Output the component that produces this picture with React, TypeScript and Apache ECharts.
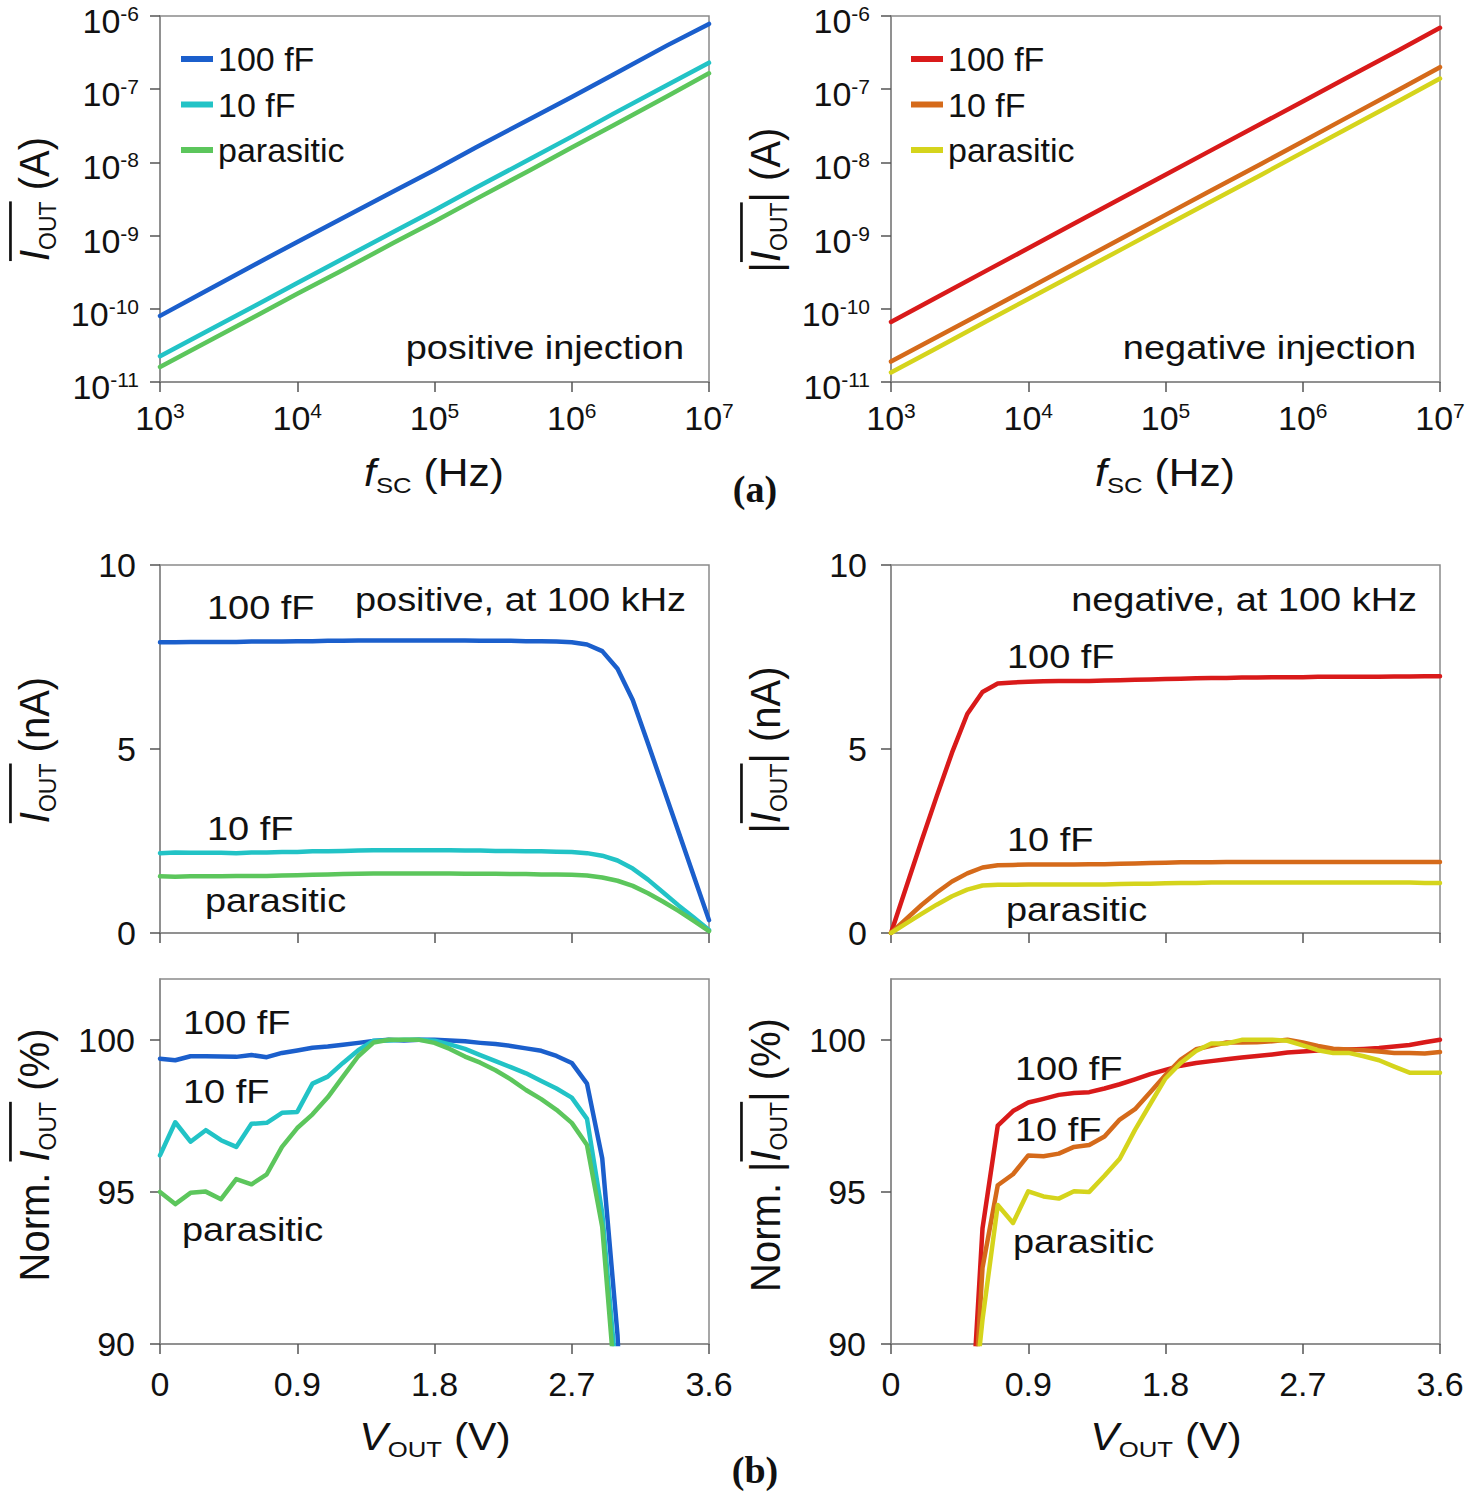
import React, { useEffect, useRef } from 'react';
import * as echarts from 'echarts';

const FONT = "'Liberation Sans', Arial, Helvetica, sans-serif";
const SERIF = "'Liberation Serif', 'Times New Roman', serif";
const INK = '#111111';
const FRAME = '#8a8a8a';
const TICK = '#555555';

const BLUE = '#1b5fcc';
const CYAN = '#22c3c6';
const GREEN = '#5cc65c';
const RED = '#d91a1a';
const ORANGE = '#d56a1a';
const YELLOW = '#d5d41c';

// ---------- (a) frequency sweep ----------
const FREQ = [1e3, 2e3, 5e3, 1e4, 2e4, 5e4, 1e5, 2e5, 5e5, 1e6, 2e6, 5e6, 1e7];
const POS_100 = [8.0e-11, 1.62e-10, 4.1e-10, 8.2e-10, 1.62e-9, 4.0e-9, 7.9e-9, 1.6e-8, 3.95e-8, 7.8e-8, 1.58e-7, 4.0e-7, 7.8e-7];
const POS_10 = [2.25e-11, 4.5e-11, 1.12e-10, 2.25e-10, 4.5e-10, 1.12e-9, 2.22e-9, 4.5e-9, 1.12e-8, 2.25e-8, 4.6e-8, 1.15e-7, 2.3e-7];
const POS_PAR = [1.6e-11, 3.2e-11, 8.0e-11, 1.6e-10, 3.15e-10, 7.9e-10, 1.56e-9, 3.15e-9, 7.9e-9, 1.6e-8, 3.2e-8, 8.1e-8, 1.65e-7];
const NEG_100 = [6.6e-11, 1.33e-10, 3.35e-10, 6.7e-10, 1.35e-9, 3.4e-9, 6.8e-9, 1.36e-8, 3.4e-8, 6.8e-8, 1.37e-7, 3.4e-7, 6.9e-7];
const NEG_10 = [1.9e-11, 3.8e-11, 9.5e-11, 1.9e-10, 3.8e-10, 9.6e-10, 1.92e-9, 3.85e-9, 9.6e-9, 1.93e-8, 3.9e-8, 9.8e-8, 2.0e-7];
const NEG_PAR = [1.35e-11, 2.7e-11, 6.8e-11, 1.36e-10, 2.72e-10, 6.8e-10, 1.36e-9, 2.72e-9, 6.8e-9, 1.37e-8, 2.75e-8, 6.9e-8, 1.4e-7];

// ---------- (b) output-voltage sweep ----------
const VOLT = [0, 0.1, 0.2, 0.3, 0.4, 0.5, 0.6, 0.7, 0.8, 0.9, 1.0, 1.1, 1.2, 1.3, 1.4, 1.5, 1.6, 1.7, 1.8, 1.9,
  2.0, 2.1, 2.2, 2.3, 2.4, 2.5, 2.6, 2.7, 2.8, 2.9, 3.0, 3.1, 3.2, 3.3, 3.4, 3.5, 3.6];

const MID_POS_100 = [7.90, 7.90, 7.91, 7.91, 7.91, 7.91, 7.92, 7.92, 7.92, 7.93, 7.93, 7.94, 7.94, 7.95, 7.95, 7.95, 7.95, 7.95, 7.95, 7.95,
  7.95, 7.94, 7.94, 7.94, 7.93, 7.93, 7.92, 7.90, 7.84, 7.66, 7.18, 6.33, 5.15, 3.95, 2.75, 1.55, 0.35];
const MID_POS_10 = [2.17, 2.19, 2.18, 2.18, 2.18, 2.17, 2.19, 2.19, 2.20, 2.20, 2.22, 2.22, 2.23, 2.24, 2.25, 2.25, 2.25, 2.25, 2.25, 2.25,
  2.24, 2.24, 2.23, 2.23, 2.22, 2.22, 2.21, 2.20, 2.17, 2.10, 1.97, 1.75, 1.45, 1.10, 0.75, 0.42, 0.08];
const MID_POS_PAR = [1.54, 1.53, 1.54, 1.54, 1.54, 1.55, 1.55, 1.55, 1.56, 1.57, 1.58, 1.59, 1.60, 1.61, 1.62, 1.62, 1.62, 1.62, 1.62, 1.62,
  1.61, 1.61, 1.61, 1.60, 1.60, 1.59, 1.59, 1.58, 1.56, 1.51, 1.42, 1.28, 1.08, 0.85, 0.60, 0.33, 0.05];
const MID_NEG_100 = [0, 1.25, 2.50, 3.72, 4.90, 5.95, 6.55, 6.78, 6.81, 6.83, 6.84, 6.85, 6.85, 6.85, 6.86, 6.87, 6.88, 6.89, 6.90, 6.91,
  6.92, 6.93, 6.93, 6.94, 6.94, 6.95, 6.95, 6.95, 6.96, 6.96, 6.96, 6.96, 6.96, 6.97, 6.97, 6.98, 6.98];
const MID_NEG_10 = [0, 0.38, 0.76, 1.10, 1.40, 1.62, 1.78, 1.84, 1.85, 1.86, 1.86, 1.86, 1.86, 1.87, 1.87, 1.88, 1.89, 1.90, 1.91, 1.92,
  1.92, 1.92, 1.93, 1.93, 1.93, 1.93, 1.93, 1.93, 1.93, 1.93, 1.93, 1.93, 1.93, 1.93, 1.93, 1.93, 1.93];
const MID_NEG_PAR = [0, 0.26, 0.52, 0.77, 1.00, 1.18, 1.29, 1.31, 1.31, 1.32, 1.32, 1.32, 1.32, 1.32, 1.32, 1.33, 1.34, 1.34, 1.35, 1.36,
  1.36, 1.37, 1.37, 1.37, 1.37, 1.37, 1.37, 1.37, 1.37, 1.37, 1.37, 1.37, 1.37, 1.37, 1.37, 1.36, 1.36];

const NORM_POS_100 = [99.38, 99.33, 99.46, 99.46, 99.45, 99.44, 99.50, 99.43, 99.57, 99.65, 99.74, 99.78, 99.84, 99.90, 99.96, 100, 99.98, 100, 100, 99.98,
  99.95, 99.90, 99.86, 99.80, 99.72, 99.64, 99.47, 99.24, 98.56, 96.10, 90.3, 79.6, 64.8, 49.7, 34.6, 19.5, 4.4];
const NORM_POS_10 = [96.2, 97.29, 96.65, 97.03, 96.7, 96.48, 97.24, 97.27, 97.6, 97.63, 98.56, 98.79, 99.24, 99.66, 99.97, 99.98, 100, 100, 99.97, 99.85,
  99.7, 99.5, 99.3, 99.1, 98.9, 98.65, 98.4, 98.1, 97.4, 94.3, 88.5, 77.8, 64.4, 48.9, 33.3, 18.7, 3.6];
const NORM_POS_PAR = [95.0, 94.6, 94.97, 95.01, 94.76, 95.42, 95.25, 95.58, 96.48, 97.1, 97.55, 98.11, 98.79, 99.46, 99.91, 100, 100, 100, 99.9, 99.7,
  99.45, 99.25, 99.0, 98.7, 98.35, 98.05, 97.7, 97.27, 96.54, 93.84, 87.7, 79.0, 66.7, 52.5, 37.0, 20.4, 3.1];
const NORM_NEG_100 = [0, 17.9, 35.8, 53.3, 70.2, 85.2, 93.8, 97.18, 97.66, 97.94, 98.06, 98.19, 98.25, 98.28, 98.4, 98.54, 98.7, 98.87, 99.01, 99.15,
  99.24, 99.3, 99.36, 99.42, 99.47, 99.52, 99.58, 99.62, 99.65, 99.67, 99.68, 99.7, 99.73, 99.78, 99.83, 99.92, 100];
const NORM_NEG_10 = [0, 19.7, 39.4, 57, 72.5, 84, 92.5, 95.22, 95.58, 96.2, 96.17, 96.26, 96.48, 96.54, 96.82, 97.38, 97.72, 98.28, 98.84, 99.35,
  99.69, 99.8, 99.91, 99.91, 99.92, 99.95, 100, 99.91, 99.8, 99.71, 99.68, 99.66, 99.62, 99.57, 99.57, 99.55, 99.6];
const NORM_NEG_PAR = [0, 19, 38, 56, 73, 86, 90.8, 94.57, 93.98, 95.02, 94.85, 94.78, 95.02, 95.0, 95.53, 96.09, 97.04, 97.89, 98.73, 99.24,
  99.63, 99.88, 99.88, 100, 100, 100, 99.97, 99.82, 99.66, 99.57, 99.57, 99.46, 99.33, 99.12, 98.92, 98.92, 98.92];

const LOG_X_TICKS = [1e3, 1e4, 1e5, 1e6, 1e7];
const LOG_Y_TICKS = [1e-11, 1e-10, 1e-9, 1e-8, 1e-7, 1e-6];
const V_TICKS = [0, 0.9, 1.8, 2.7, 3.6];
const I_TICKS = [0, 5, 10];
const N_TICKS = [90, 95, 100];
const CAPS = ['100 fF', '10 fF', 'parasitic'];

let measureCtx: CanvasRenderingContext2D | null = null;
function textWidth(text: string, size: number, italic: boolean, family = FONT) {
  if (!measureCtx) measureCtx = document.createElement('canvas').getContext('2d');
  measureCtx!.font = `${italic ? 'italic ' : ''}${size}px ${family}`;
  return measureCtx!.measureText(text).width;
}

type Piece = { t: string; k: 'n' | 'i' | 's' };

function titleGroup(pieces: Piece[], over: [number, number], cx: number, cy: number, vertical: boolean) {
  const F = vertical ? 40 : 38;
  const S = 23;
  const subDy = 12;
  const widths = pieces.map((p) => textWidth(p.t, p.k === 's' ? S : F, p.k === 'i'));
  const total = widths.reduce((a, b) => a + b, 0);
  let x = -total / 2;
  const starts: number[] = [];
  const children: any[] = [];
  pieces.forEach((p, i) => {
    starts.push(x);
    children.push({
      type: 'text', x, y: p.k === 's' ? subDy : 0,
      style: {
        text: p.t, fontSize: p.k === 's' ? S : F, fontFamily: FONT, fontStyle: p.k === 'i' ? 'italic' : 'normal',
        fill: INK, align: 'left', verticalAlign: 'middle', textAlign: 'left', textVerticalAlign: 'middle',
      },
    });
    x += widths[i];
  });
  if (over[0] >= 0) {
    const y0 = -(0.37 * F + 7);
    children.push({
      type: 'line',
      shape: { x1: starts[over[0]], y1: y0, x2: starts[over[1]] + widths[over[1]], y2: y0 },
      style: { stroke: INK, lineWidth: 2.5 },
    });
  }
  return {
    type: 'group', x: cx, y: cy, rotation: vertical ? Math.PI / 2 : 0,
    scaleX: vertical ? 1 : 1.12, scaleY: vertical ? 1.08 : 1, children,
  };
}

function note(text: string, x: number, y: number, align = 'left') {
  return {
    type: 'text', x, y, scaleX: 1.15,
    style: { text, fontSize: 33, fontFamily: FONT, fill: INK, align, verticalAlign: 'middle', textAlign: align, textVerticalAlign: 'middle' },
  };
}

const labelRich = {
  b: { fontSize: 34, fontFamily: FONT, color: INK, lineHeight: 36, verticalAlign: 'middle' },
  s: { fontSize: 21, fontFamily: FONT, color: INK, lineHeight: 21, verticalAlign: 'top' },
};
const powLabel = (v: number) => `{b|10}{s|${Math.round(Math.log10(v))}}`;

const axisLine = { show: true, onZero: false, lineStyle: { color: FRAME, width: 1.5 } };
const tickStyle = (vals: number[]) => ({ show: true, inside: false, length: 10, customValues: vals, lineStyle: { color: TICK, width: 1.5 } });
const plainLabel = (vals: number[], margin: number, show = true) => ({
  show, customValues: vals, margin, fontSize: 34, fontFamily: FONT, color: INK, lineHeight: 36,
});

export default function App() {
  const ref = useRef<HTMLDivElement>(null);
  useEffect(() => {
    if (!ref.current) return;
    const chart = echarts.init(ref.current, undefined, { renderer: 'svg' });

    const gridBase = { show: true, borderColor: FRAME, borderWidth: 1.5, backgroundColor: '#fff', containLabel: false, outerBoundsMode: 'none' };
    const grid = [
      { ...gridBase, left: 160, top: 16, width: 549, height: 366 },
      { ...gridBase, left: 891, top: 16, width: 549, height: 366 },
      { ...gridBase, left: 160, top: 565, width: 549, height: 368 },
      { ...gridBase, left: 891, top: 565, width: 549, height: 368 },
      { ...gridBase, left: 160, top: 979, width: 549, height: 365 },
      { ...gridBase, left: 891, top: 979, width: 549, height: 365 },
    ];

    const logX = (g: number) => ({
      type: 'log', logBase: 10, gridIndex: g, min: 1e3, max: 1e7, axisLine, splitLine: { show: false },
      axisTick: tickStyle(LOG_X_TICKS),
      axisLabel: { customValues: LOG_X_TICKS, margin: 18, formatter: powLabel, rich: labelRich },
    });
    const logY = (g: number) => ({
      type: 'log', logBase: 10, gridIndex: g, min: 1e-11, max: 1e-6, axisLine, splitLine: { show: false },
      axisTick: tickStyle(LOG_Y_TICKS),
      axisLabel: { customValues: LOG_Y_TICKS, margin: 21, padding: [10, 0, 0, 0], formatter: powLabel, rich: labelRich },
    });
    const vX = (g: number, show: boolean) => ({
      type: 'value', gridIndex: g, min: 0, max: 3.6, axisLine, splitLine: { show: false },
      axisTick: tickStyle(V_TICKS), axisLabel: plainLabel(V_TICKS, 22, show),
    });
    const iY = (g: number) => ({
      type: 'value', gridIndex: g, min: 0, max: 10, axisLine, splitLine: { show: false },
      axisTick: tickStyle(I_TICKS), axisLabel: plainLabel(I_TICKS, 24),
    });
    const nY = (g: number) => ({
      type: 'value', gridIndex: g, min: 90, max: 102, axisLine, splitLine: { show: false },
      axisTick: tickStyle(N_TICKS), axisLabel: plainLabel(N_TICKS, 25),
    });

    const line = (name: string, idx: number, xs: number[], ys: number[], color: string) => ({
      type: 'line', name, xAxisIndex: idx, yAxisIndex: idx,
      data: xs.map((x, i) => [x, ys[i]]),
      symbol: 'none', showSymbol: false, clip: true, smooth: false,
      lineStyle: { color, width: 4.5, cap: 'round', join: 'round' }, itemStyle: { color },
      emphasis: { disabled: true },
    });

    const series = [
      line('pos 100 fF', 0, FREQ, POS_100, BLUE),
      line('pos 10 fF', 0, FREQ, POS_10, CYAN),
      line('pos parasitic', 0, FREQ, POS_PAR, GREEN),
      line('neg 100 fF', 1, FREQ, NEG_100, RED),
      line('neg 10 fF', 1, FREQ, NEG_10, ORANGE),
      line('neg parasitic', 1, FREQ, NEG_PAR, YELLOW),
      line('mp 100 fF', 2, VOLT, MID_POS_100, BLUE),
      line('mp 10 fF', 2, VOLT, MID_POS_10, CYAN),
      line('mp parasitic', 2, VOLT, MID_POS_PAR, GREEN),
      line('mn 100 fF', 3, VOLT, MID_NEG_100, RED),
      line('mn 10 fF', 3, VOLT, MID_NEG_10, ORANGE),
      line('mn parasitic', 3, VOLT, MID_NEG_PAR, YELLOW),
      line('np 100 fF', 4, VOLT, NORM_POS_100, BLUE),
      line('np 10 fF', 4, VOLT, NORM_POS_10, CYAN),
      line('np parasitic', 4, VOLT, NORM_POS_PAR, GREEN),
      line('nn 100 fF', 5, VOLT, NORM_NEG_100, RED),
      line('nn 10 fF', 5, VOLT, NORM_NEG_10, ORANGE),
      line('nn parasitic', 5, VOLT, NORM_NEG_PAR, YELLOW),
    ];

    const legendBase = {
      orient: 'vertical', top: 41, padding: 0, itemGap: 9.5, itemWidth: 32, itemHeight: 6, icon: 'rect',
      selectedMode: false, formatter: (n: string) => n.replace(/^(pos|neg) /, ''),
      textStyle: { fontSize: 34, fontFamily: FONT, color: INK, lineHeight: 36 },
    };
    const legend = [
      { ...legendBase, left: 181, data: CAPS.map((c) => 'pos ' + c) },
      { ...legendBase, left: 911, data: CAPS.map((c) => 'neg ' + c) },
    ];

    const I: Piece = { t: 'I', k: 'i' };
    const OUT: Piece = { t: 'OUT', k: 's' };
    const bar: Piece = { t: '|', k: 'n' };
    const n = (t: string): Piece => ({ t, k: 'n' });

    const elements: any[] = [
      // y-axis titles
      titleGroup([I, OUT, n(' (A)')], [0, 1], 34, 199, true),
      titleGroup([bar, I, OUT, bar, n(' (A)')], [1, 2], 765, 200, true),
      titleGroup([I, OUT, n(' (nA)')], [0, 1], 34, 750, true),
      titleGroup([bar, I, OUT, bar, n(' (nA)')], [1, 2], 765, 750, true),
      titleGroup([n('Norm. '), I, OUT, n(' (%)')], [1, 2], 34, 1155, true),
      titleGroup([n('Norm. '), bar, I, OUT, bar, n(' (%)')], [2, 3], 765, 1155, true),
      // x-axis titles
      titleGroup([{ t: 'f', k: 'i' }, { t: 'SC', k: 's' }, n(' (Hz)')], [-1, -1], 434, 473, false),
      titleGroup([{ t: 'f', k: 'i' }, { t: 'SC', k: 's' }, n(' (Hz)')], [-1, -1], 1165, 473, false),
      titleGroup([{ t: 'V', k: 'i' }, { t: 'OUT', k: 's' }, n(' (V)')], [-1, -1], 435, 1437, false),
      titleGroup([{ t: 'V', k: 'i' }, { t: 'OUT', k: 's' }, n(' (V)')], [-1, -1], 1166, 1437, false),
      // panel annotations
      note('positive injection', 684, 348, 'right'),
      note('negative injection', 1416, 348, 'right'),
      note('positive, at 100 kHz', 686, 600, 'right'),
      note('negative, at 100 kHz', 1417, 600, 'right'),
      note('100 fF', 207, 608), note('10 fF', 207, 829), note('parasitic', 205, 901),
      note('100 fF', 1007, 657), note('10 fF', 1007, 840), note('parasitic', 1006, 910),
      note('100 fF', 183, 1023), note('10 fF', 183, 1092), note('parasitic', 182, 1230),
      note('100 fF', 1015, 1069), note('10 fF', 1015, 1130), note('parasitic', 1013, 1242),
      // figure part labels
      {
        type: 'text', x: 755, y: 489,
        style: { text: '(a)', fontSize: 38, fontFamily: SERIF, fontWeight: 'bold', fill: INK, align: 'center', verticalAlign: 'middle', textAlign: 'center', textVerticalAlign: 'middle' },
      },
      {
        type: 'text', x: 755, y: 1470,
        style: { text: '(b)', fontSize: 38, fontFamily: SERIF, fontWeight: 'bold', fill: INK, align: 'center', verticalAlign: 'middle', textAlign: 'center', textVerticalAlign: 'middle' },
      },
    ];

    chart.setOption({
      animation: false,
      backgroundColor: '#ffffff',
      textStyle: { fontFamily: FONT },
      grid,
      xAxis: [logX(0), logX(1), vX(2, false), vX(3, false), vX(4, true), vX(5, true)],
      yAxis: [logY(0), logY(1), iY(2), iY(3), nY(4), nY(5)],
      legend,
      series,
      graphic: { elements },
    });
    return () => chart.dispose();
  }, []);

  return <div ref={ref} style={{ position: 'absolute', left: 0, top: 0, width: 1471, height: 1500, background: '#fff' }} />;
}
